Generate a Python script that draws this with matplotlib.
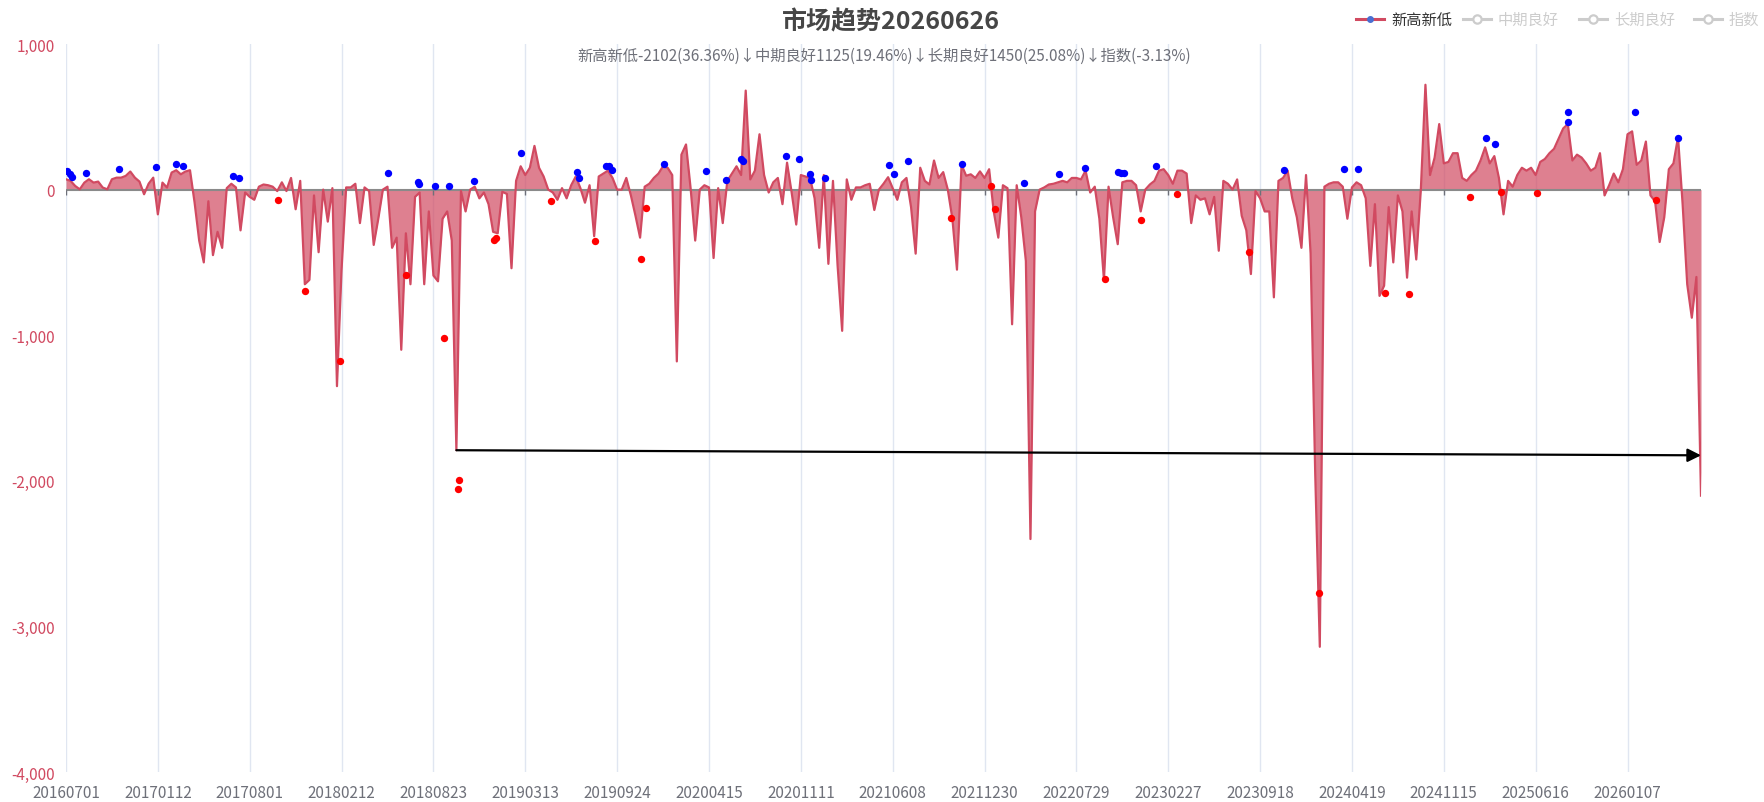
import numpy as np
import matplotlib.pyplot as plt
from matplotlib.lines import Line2D
from matplotlib.ticker import FuncFormatter

plt.rcParams['font.family'] = ['Noto Sans CJK SC', 'DejaVu Sans']

# x axis labels, one every 20 points
tick_labels = ['20160701', '20170112', '20170801', '20180212', '20180823', '20190313',
               '20190924', '20200415', '20201111', '20210608', '20211230', '20220729',
               '20230227', '20230918', '20240419', '20241115', '20250616', '20260107']

# 新高新低 series (~1 point per week)
values = [
    71, 60, 25, 2, 48, 71, 48, 55, 14, 2,
    71, 82, 82, 94, 124, 82, 55, -32, 41, 82,
    -170, 48, 14, 117, 133, 105, 124, 133, -89, -350,
    -500, -80, -450, -290, -400, 10, 40, 15, -280, -20,
    -50, -70, 20, 35, 30, 20, -10, 50, -10, 80,
    -135, 60, -650, -620, -40, -430, 0, -220, 10, -1350,
    -550, 15, 15, 40, -230, 15, -10, -380, -200, 0,
    20, -400, -330, -1100, -300, -650, -50, -20, -650, -150,
    -590, -630, -200, -150, -350, -1790, -10, -150, 0, 20,
    -60, -20, -100, -290, -300, -15, -30, -540, 60, 160,
    100, 150, 300, 150, 90, 0, -20, -70, 10, -60,
    30, 90, 10, -90, 30, -320, 90, 110, 130, 80,
    0, 0, 80, -40, -180, -330, 20, 40, 80, 110,
    160, 150, 100, -1180, 240, 310, 10, -350, 0, 30,
    15, -470, 10, -230, 60, 110, 160, 100, 680, 70,
    130, 380, 100, -20, 50, 80, -100, 185, -20, -240,
    100, 90, 80, -60, -400, 100, -510, 60, -520, -970,
    70, -70, 15, 15, 30, 40, -140, 0, 40, 85,
    10, -70, 50, 80, -120, -440, 150, 60, 35, 200,
    80, 120, 0, -200, -550, 170, 95, 105, 80, 125,
    80, 140, -150, -330, 30, 10, -925, 30, -190, -490,
    -2400, -150, 0, 15, 35, 40, 50, 60, 50, 80,
    80, 70, 130, -20, 20, -200, -620, 20, -190, -375,
    50, 60, 60, 30, -150, 0, 35, 60, 130, 140,
    100, 40, 130, 130, 110, -230, -40, -70, -60, -170,
    -50, -420, 60, 40, 0, 70, -180, -280, -580, -10,
    -60, -150, -150, -740, 60, 80, 130, -60, -190, -400,
    100, -440, -1950, -3140, 20, 40, 50, 50, 20, -200,
    15, 50, 30, -60, -524, -100, -730, -660, -120, -500,
    -40, -150, -605, -150, -480, 0, 720, 100, 220, 450,
    180, 190, 250, 250, 80, 60, 100, 130, 200, 290,
    180, 230, 80, -170, 60, 20, 100, 150, 130, 150,
    100, 190, 210, 250, 280, 350, 420, 450, 200, 240,
    220, 180, 130, 150, 250, -40, 30, 110, 50, 140,
    380, 400, 170, 200, 330, -40, -80, -360, -190, 140,
    180, 360, -100, -650, -880, -600, -2102,
]

# blue markers (position in series index, value)
high_pos = [0.2, 0.9, 1.2, 4.4, 11.6, 19.5, 23.9, 25.4, 36.4, 37.6, 70.2, 76.6, 76.9,
            80.3, 83.3, 88.9, 99.0, 111.2, 111.6, 117.6, 118.2, 118.9, 130.3, 139.3,
            143.8, 147.0, 147.4, 156.8, 159.6, 162.0, 162.3, 165.3, 179.2, 180.3, 183.3,
            195.2, 208.7, 216.3, 221.8, 229.0, 229.8, 230.4, 237.4, 265.1, 278.2, 281.3,
            309.2, 311.2, 327.0, 327.1, 341.6, 351.1]
high_val = [128, 105, 89, 112, 142, 156, 174, 163, 94, 78, 114, 53, 37,
            25, 25, 60, 252, 121, 78, 163, 160, 137, 174, 130,
            64, 213, 199, 234, 208, 110, 64, 78, 172, 105, 195,
            179, 48, 110, 151, 121, 115, 112, 160, 137, 144, 144,
            353, 316, 531, 467, 531, 355]

# red markers
low_pos = [46.1, 52.0, 59.7, 74.0, 82.4, 85.3, 85.6, 93.3, 93.6, 105.7, 115.2, 125.3,
           126.3, 192.8, 201.4, 202.2, 226.2, 234.1, 242.0, 257.5, 272.8, 287.2, 292.4,
           305.6, 312.5, 320.3, 346.1]
low_val = [-71, -696, -1177, -586, -1017, -2054, -1995, -345, -330, -78, -353, -474,
           -128, -195, 23, -131, -614, -206, -30, -430, -2770, -708, -714,
           -50, -14, -23, -71]

# arrow from the 2018 low to the latest value
arrow_from = (85, -1790)
arrow_to = (356, -1825)

title = '市场趋势20260626'
subtitle = '新高新低-2102(36.36%)↓中期良好1125(19.46%)↓长期良好1450(25.08%)↓指数(-3.13%)'
legend_names = ['新高新低', '中期良好', '长期良好', '指数']

red = '#d14a61'

fig = plt.figure(figsize=(17.65, 8.03), dpi=100)
ax = fig.add_axes([66 / 1765, 30 / 803, 1635 / 1765, 728 / 803])

x = np.arange(len(values))
ax.fill_between(x, values, 0, color=red, alpha=0.7, lw=0, zorder=2)
ax.plot(x, values, color=red, lw=1.6, zorder=3)
ax.axhline(0, color='#8a8a8a', lw=1.5, zorder=2.5)

ticks = np.arange(0, len(values), 20)[:len(tick_labels)]
ax.vlines(ticks, -40, 0, color='#6e7079', lw=1, zorder=2.5)

ax.scatter(high_pos, high_val, s=28, color='#0000ff', zorder=5, lw=0)
ax.scatter(low_pos, low_val, s=28, color='#ff0000', zorder=5, lw=0)

ax.annotate('', xy=arrow_to, xytext=arrow_from,
            arrowprops=dict(arrowstyle='-|>', color='black', lw=1.6, mutation_scale=20,
                            shrinkA=0, shrinkB=0), zorder=6)

ax.set_xlim(0, len(values) - 1)
ax.set_ylim(-4000, 1000)
ax.set_xticks(ticks)
ax.set_xticklabels(tick_labels)
ax.set_yticks(np.arange(-4000, 1001, 1000))
ax.yaxis.set_major_formatter(FuncFormatter(lambda v, p: f'{v:,.0f}'))
ax.tick_params(axis='x', length=0, pad=9, labelsize=11, labelcolor='#6e7079')
ax.tick_params(axis='y', length=0, pad=8, labelsize=11, labelcolor=red)
ax.grid(axis='x', color='#e0e6f1', lw=1, zorder=0)
for s in ax.spines.values():
    s.set_visible(False)

fig.text(0.505, 0.972, title, ha='center', va='center', fontsize=18,
         fontweight='bold', color='#464646')
fig.text(0.5007, 0.930, subtitle, ha='center', va='center', fontsize=11, color='#6e7079')

# legend drawn by hand, top right
leg_x = [1356, 1463, 1579, 1694]
leg_y = 0.975
for i, name in enumerate(legend_names):
    x0 = leg_x[i] / 1765
    x1 = (leg_x[i] + 28) / 1765
    xm = (x0 + x1) / 2
    if i == 0:
        fig.add_artist(Line2D([x0, x1], [leg_y, leg_y], color=red, lw=2.2))
        fig.add_artist(Line2D([xm], [leg_y], marker='o', ms=4, color='#4a6fd1', mec='#4a6fd1'))
        col = '#333333'
    else:
        fig.add_artist(Line2D([x0, x1], [leg_y, leg_y], color='#cccccc', lw=2.2))
        fig.add_artist(Line2D([xm], [leg_y], marker='o', ms=6, mfc='white', mec='#cccccc', mew=1.6))
        col = '#cccccc'
    fig.text(x1 + 7 / 1765, leg_y, name, ha='left', va='center', fontsize=11, color=col)

fig.savefig('out.png', dpi=100)
